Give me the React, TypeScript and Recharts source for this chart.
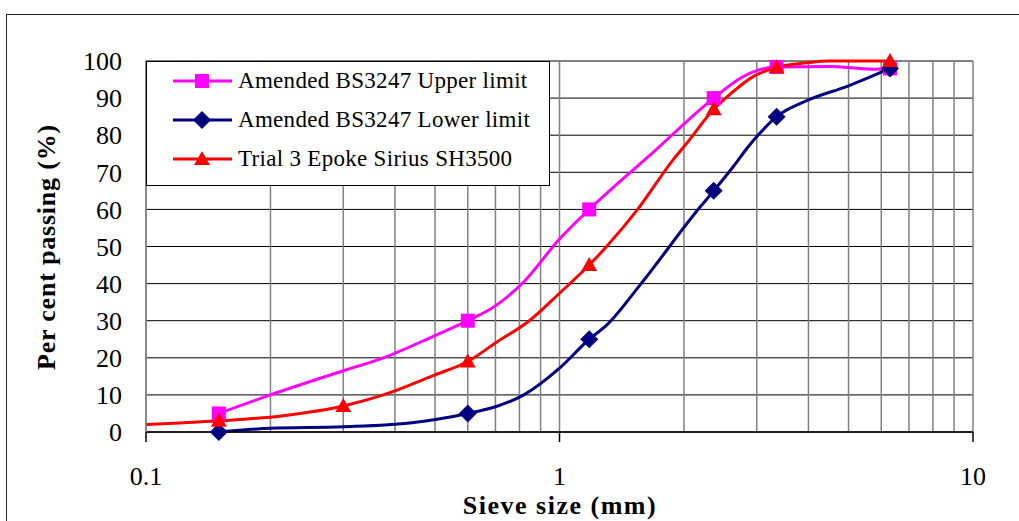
import { LineChart, Line, XAxis, YAxis, CartesianGrid, Legend, ReferenceLine } from 'recharts';

// sieve sizes (mm) and per cent passing for each grading curve
const upperSizes = [0.15, 0.2, 0.3, 0.375, 0.5, 0.6, 0.7, 0.82, 1.0, 1.18, 1.7, 2.36, 2.75, 3.35, 4.5, 5.7, 6.3];
const upperPassing = [5, 10, 16.5, 20, 26, 30, 34, 40.5, 52, 60, 75.8, 90, 95.5, 98.4, 98.5, 97.8, 98];

const lowerSizes = [0.15, 0.2, 0.3, 0.44, 0.51, 0.6, 0.7, 0.82, 1.0, 1.18, 1.3, 1.56, 2.19, 2.36, 2.63, 2.86, 3.05, 3.35, 3.96, 5.0, 6.3];
const lowerPassing = [0, 1, 1.4, 2.5, 3.5, 5, 6.8, 10, 17.2, 25, 28.8, 39.4, 60.7, 65, 71.5, 76.9, 80.5, 85, 89.3, 93.3, 98];

const trialSizes = [0.1, 0.15, 0.215, 0.3, 0.375, 0.5, 0.6, 0.7, 0.85, 1.0, 1.18, 1.3, 1.54, 1.88, 2.03, 2.36, 2.6, 2.94, 3.35, 3.96, 4.5, 6.3];
const trialPassing = [2, 3, 4.4, 7, 10, 15.4, 19, 24, 30.2, 37.4, 45, 50, 59.8, 73.3, 77.8, 87, 91.3, 95.8, 98.3, 99.5, 100, 100];

// sieves that get a marker
const limitSieves = [0.15, 0.6, 1.18, 2.36, 3.35, 6.3];
const trialSieves = [0.15, 0.3, 0.6, 1.18, 2.36, 3.35, 6.3];

const xTicks = [0.1, 0.2, 0.3, 0.4, 0.5, 0.6, 0.7, 0.8, 0.9, 1, 2, 3, 4, 5, 6, 7, 8, 9, 10];
const xLabels = [0.1, 1, 10];
const yTicks = [0, 10, 20, 30, 40, 50, 60, 70, 80, 90, 100];

const series = [
  { name: 'Amended BS3247 Upper limit', color: '#FF00FF', shape: 'square', sizes: upperSizes, passing: upperPassing, marks: limitSieves },
  { name: 'Amended BS3247 Lower limit', color: '#000080', shape: 'diamond', sizes: lowerSizes, passing: lowerPassing, marks: limitSieves },
  { name: 'Trial 3 Epoke Sirius SH3500', color: '#FF0000', shape: 'triangle', sizes: trialSizes, passing: trialPassing, marks: trialSieves },
];

const FONT = 'Liberation Serif';

function Marker({ shape, color, x, y }: { shape: string; color: string; x: number; y: number }) {
  if (shape === 'square') {
    return <rect x={x - 7} y={y - 7} width={14} height={14} fill={color} />;
  }
  if (shape === 'diamond') {
    return <polygon points={`${x},${y - 9} ${x + 9},${y} ${x},${y + 9} ${x - 9},${y}`} fill={color} />;
  }
  return <polygon points={`${x},${y - 8} ${x + 8},${y + 6} ${x - 8},${y + 6}`} fill={color} />;
}

const makeDot = (shape: string, color: string, marks: number[]) => (props: any) => {
  const { cx, cy, payload, index } = props;
  const key = `${shape}-${index}`;
  if (cx == null || cy == null || !marks.includes(payload.size)) return <g key={key} />;
  return (
    <g key={key}>
      <Marker shape={shape} color={color} x={cx} y={cy} />
    </g>
  );
};

function SieveTick(props: any) {
  const { x, y, payload } = props;
  if (!xLabels.includes(payload.value)) return <g />;
  return (
    <g>
      <line x1={x} y1={y} x2={x} y2={y + 10} stroke="#000" strokeWidth={1.5} />
      <text x={x} y={y + 44} textAnchor="middle" dominantBaseline="central" fontSize={26} fontFamily={FONT} fill="#000">
        {payload.value}
      </text>
    </g>
  );
}

function LegendBox() {
  return (
    <div
      style={{
        width: 404,
        height: 125,
        boxSizing: 'border-box',
        border: '1px solid #000',
        background: '#fff',
        position: 'relative',
        fontFamily: FONT,
        fontSize: 23,
        letterSpacing: 0.3,
        color: '#000',
      }}
    >
      {series.map((s, i) => {
        const cy = 19 + i * 39;
        return (
          <div key={s.name} style={{ position: 'absolute', left: 0, top: cy - 15, height: 30, width: 404 }}>
            <svg width={90} height={30} style={{ position: 'absolute', left: 0, top: 0 }}>
              <line x1={26} y1={15} x2={85} y2={15} stroke={s.color} strokeWidth={3} />
              <Marker shape={s.shape} color={s.color} x={55} y={15} />
            </svg>
            <span style={{ position: 'absolute', left: 91, top: 0, lineHeight: '30px', whiteSpace: 'nowrap' }}>{s.name}</span>
          </div>
        );
      })}
    </div>
  );
}

export default function App() {
  return (
    <div style={{ position: 'absolute', left: 0, top: 0, width: 1019, height: 521, overflow: 'hidden', background: '#fff' }}>
      <div style={{ position: 'absolute', left: 6, top: 14, width: 1030, height: 540, borderLeft: '1.5px solid #222', borderTop: '1.5px solid #222' }} />
      <LineChart width={1019} height={521} margin={{ top: 61, right: 46, bottom: 59, left: 0 }}>
        <CartesianGrid vertical={false} stroke="#000" strokeWidth={1} />
        <CartesianGrid horizontal={false} stroke="#808080" strokeWidth={1.5} />
        <XAxis
          type="number"
          dataKey="size"
          scale="log"
          domain={[0.1, 10]}
          ticks={xTicks}
          interval={0}
          allowDataOverflow
          tickSize={0}
          tickMargin={0}
          tickLine={false}
          axisLine={{ stroke: '#000', strokeWidth: 1.5 }}
          tick={(p: any) => <SieveTick {...p} />}
          height={30}
        />
        <YAxis
          type="number"
          domain={[0, 100]}
          ticks={yTicks}
          interval={0}
          width={146}
          tickLine={false}
          tickSize={0}
          tickMargin={24}
          axisLine={{ stroke: '#808080', strokeWidth: 1.5 }}
          tick={{ fontSize: 26, fill: '#000', fontFamily: FONT }}
        />
        <ReferenceLine y={100} stroke="#808080" strokeWidth={1.5} />
        {series.map((s) => (
          <Line
            key={s.name}
            name={s.name}
            data={s.sizes.map((size, i) => ({ size, passing: s.passing[i] }))}
            dataKey="passing"
            type="monotone"
            stroke={s.color}
            strokeWidth={3}
            dot={makeDot(s.shape, s.color, s.marks)}
            activeDot={false}
            isAnimationActive={false}
          />
        ))}
        <Legend
          layout="vertical"
          align="center"
          verticalAlign="middle"
          wrapperStyle={{ left: 146, top: 61, width: 404, height: 125 }}
          content={() => <LegendBox />}
        />
      </LineChart>
      <div
        style={{
          position: 'absolute',
          left: 560,
          top: 506,
          transform: 'translate(-50%, -50%)',
          fontFamily: FONT,
          fontWeight: 'bold',
          fontSize: 26,
          lineHeight: '22px',
          letterSpacing: 1.5,
          whiteSpace: 'nowrap',
        }}
      >
        Sieve size (mm)
      </div>
      <div
        style={{
          position: 'absolute',
          left: 47,
          top: 247,
          transform: 'translate(-50%, -50%) rotate(-90deg)',
          fontFamily: FONT,
          fontWeight: 'bold',
          fontSize: 26,
          lineHeight: '24px',
          letterSpacing: 0.8,
          whiteSpace: 'nowrap',
        }}
      >
        Per cent passing (%)
      </div>
    </div>
  );
}
